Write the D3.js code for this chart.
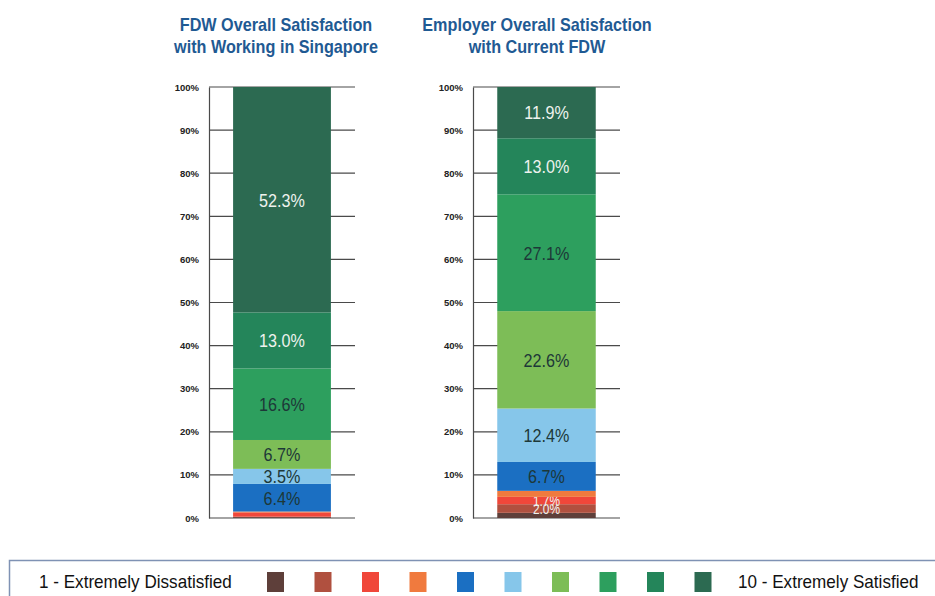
<!DOCTYPE html>
<html>
<head>
<meta charset="utf-8">
<script src="https://cdn.jsdelivr.net/npm/d3@7"></script>
<style>
  body { margin: 0; background: #fff; }
  svg { display: block; }
  text { font-family: "Liberation Sans", Arial, sans-serif; }
</style>
</head>
<body>
<svg id="chart" width="935" height="596"></svg>
<script>
// satisfaction levels 1 (extremely dissatisfied) .. 10 (extremely satisfied)
const levels = ['1', '2', '3', '4', '5', '6', '7', '8', '9', '10'];
const levelColors = ['#5e3f3a', '#b0503f', '#f0473a', '#f07a3e', '#1b6fc2',
  '#86c6ea', '#7dbd57', '#2d9f5e', '#24855a', '#2c6a51'];

// percent of respondents per level, bottom to top
const fdwValues = [0.2, 0.1, 1.0, 0.2, 6.4, 3.5, 6.7, 16.6, 13.0, 52.3];
const employerValues = [1.2, 2.0, 1.7, 1.4, 6.7, 12.4, 22.6, 27.1, 13.0, 11.9];

const titles = [
  ['FDW Overall Satisfaction', 'with Working in Singapore'],
  ['Employer Overall Satisfaction', 'with Current FDW'],
];
const yTicks = [0, 10, 20, 30, 40, 50, 60, 70, 80, 90, 100];
const legendLow = '1 - Extremely Dissatisfied';
const legendHigh = '10 - Extremely Satisfied';

const svg = d3.select('#chart');

const y = d3.scaleLinear().domain([0, 100]).range([518, 87]);
const color = d3.scaleOrdinal().domain(levels).range(levelColors);

// narrow look: no condensed face installed, so squeeze horizontally
const squeeze = (sel, x, yy, k) => sel
  .attr('x', 0)
  .attr('y', 0)
  .attr('transform', `translate(${x},${yy}) scale(${k},1)`);

const panels = [
  { key: 'fdw', values: fdwValues, title: titles[0], x0: 209, x1: 355, cx: 276 },
  { key: 'employer', values: employerValues, title: titles[1], x0: 473, x1: 620, cx: 537 },
];

panels.forEach(p => {
  const row = { key: p.key };
  levels.forEach((l, i) => { row[l] = p.values[i]; });
  const series = d3.stack().keys(levels)([row]);

  const x = d3.scaleBand().domain([p.key]).range([p.x0, p.x1])
    .paddingInner(0.33).paddingOuter(0.165);

  const g = svg.append('g');

  // title, two lines
  p.title.forEach((line, i) => {
    g.append('text')
      .attr('text-anchor', 'middle')
      .attr('font-size', 18)
      .attr('font-weight', 'bold')
      .attr('fill', '#1f5a93')
      .text(line)
      .call(squeeze, p.cx, 31 + i * 22, 0.9);
  });

  // gridlines
  g.selectAll('.grid')
    .data(yTicks)
    .enter()
    .append('line')
    .attr('x1', p.x0)
    .attr('x2', p.x1)
    .attr('y1', d => y(d))
    .attr('y2', d => y(d))
    .attr('stroke', '#4a4a4a')
    .attr('stroke-width', 1.2);

  // y axis
  const axis = g.append('g')
    .attr('transform', `translate(${p.x0},0)`)
    .call(d3.axisLeft(y).tickValues(yTicks).tickSize(0).tickPadding(10)
      .tickFormat(d => `${d}%`));
  axis.select('.domain').attr('stroke', '#4a4a4a').attr('stroke-width', 1.2);
  axis.selectAll('text')
    .attr('font-size', 9.5)
    .attr('font-weight', 'bold')
    .attr('fill', '#222')
    .attr('font-family', '"Liberation Serif", serif');

  // stacked bar
  const layers = g.selectAll('.layer')
    .data(series)
    .enter()
    .append('g')
    .attr('fill', d => color(d.key));

  layers.selectAll('rect')
    .data(d => d)
    .enter()
    .append('rect')
    .attr('x', d => x(d.data.key))
    .attr('width', x.bandwidth())
    .attr('y', d => y(d[1]))
    .attr('height', d => y(d[0]) - y(d[1]));

  // value labels; thin slices get a smaller face so they crowd less
  const light = ['1', '2', '3', '4', '9', '10'];
  layers.selectAll('text')
    .data(d => d.map(v => ({ v, key: d.key })))
    .enter()
    .filter(d => d.v[1] - d.v[0] >= 1.5)
    .append('text')
    .attr('dy', '0.36em')
    .attr('text-anchor', 'middle')
    .attr('font-size', d => (d.v[1] - d.v[0] < 3 ? 14 : 19))
    .attr('fill', d => (light.includes(d.key) ? '#eef2ee' : '#1d3838'))
    .text(d => `${(d.v[1] - d.v[0]).toFixed(1)}%`)
    .each(function place(d) {
      d3.select(this).call(squeeze,
        x(d.v.data.key) + x.bandwidth() / 2, y((d.v[0] + d.v[1]) / 2), 0.85);
    });
});

// legend
const legend = svg.append('g');
legend.append('rect')
  .attr('x', 9.5)
  .attr('y', 560.5)
  .attr('width', 940)
  .attr('height', 60)
  .attr('fill', '#fff')
  .attr('stroke', '#7f92b4')
  .attr('stroke-width', 1.5);

const lx = d3.scalePoint().domain(levels).range([267, 694.5]);

legend.selectAll('.swatch')
  .data(levels)
  .enter()
  .append('rect')
  .attr('x', d => lx(d))
  .attr('y', 572)
  .attr('width', 17)
  .attr('height', 20)
  .attr('fill', d => color(d));

legend.append('text')
  .attr('font-size', 18)
  .attr('fill', '#111')
  .text(legendLow)
  .call(squeeze, 39, 588, 0.95);

legend.append('text')
  .attr('font-size', 18)
  .attr('fill', '#111')
  .text(legendHigh)
  .call(squeeze, 738, 588, 0.95);
</script>
</body>
</html>
